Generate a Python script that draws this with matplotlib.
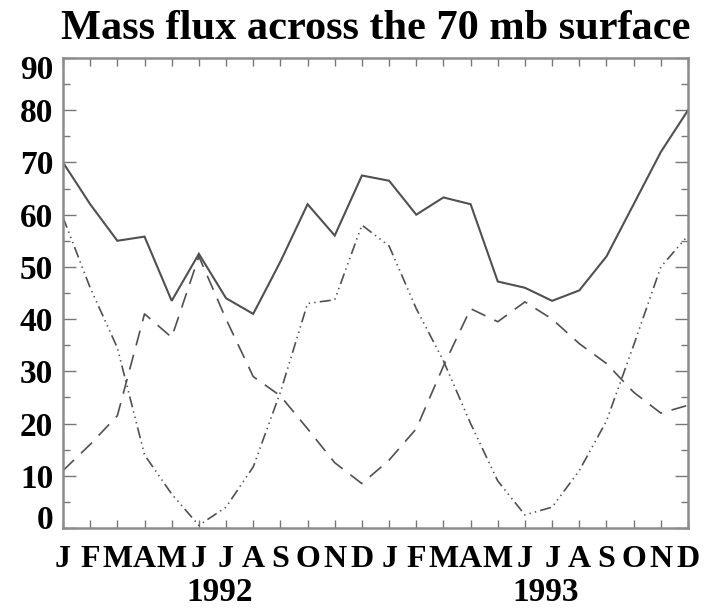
import matplotlib
matplotlib.use('Agg')
import matplotlib.pyplot as plt
from matplotlib.ticker import MultipleLocator
from matplotlib.transforms import ScaledTranslation

# month labels, two years
months = ['J', 'F', 'M', 'A', 'M', 'J', 'J', 'A', 'S', 'O', 'N', 'D'] * 2
years = ['1992', '1993']
yticks = [0, 10, 20, 30, 40, 50, 60, 70, 80, 90]

# values
total = [70, 62, 55, 55.8, 43.5, 52.5, 44, 41, 51, 62, 56, 67.5,
         66.5, 60, 63.3, 62, 47.2, 46, 43.5, 45.5, 52, 62, 72, 80]
dashed = [11, 16, 21.5, 41, 36.5, 52, 40, 29, 25.3, 19, 12.5, 8.5,
          13, 19, 31, 42, 39.5, 43.3, 40, 35.3, 31.5, 26, 22, 23.5]
dotted = [59.5, 46, 34.5, 14, 6.5, 0.5, 4, 11.7, 26, 43, 43.7, 58,
          54, 42, 32, 20, 9, 2.5, 4, 11, 20.5, 35, 50, 56]

plt.rcParams['lines.scale_dashes'] = False
serif = ['Liberation Serif', 'DejaVu Serif']

fig = plt.figure(figsize=(7.04, 6.09), dpi=100)
ax = fig.add_axes([63 / 704, 81 / 609, 625 / 704, 470 / 609])

x = list(range(len(months)))
line_col = '#505050'
ax.plot(x, total, color=line_col, lw=1.5, solid_joinstyle='miter')
ax.plot(x, dashed, color=line_col, lw=1.2, linestyle=(0, (11, 7)))
ax.plot(x, dotted, color=line_col, lw=1.2,
        linestyle=(0, (8, 3, 1, 3, 1, 3, 1, 3)))

ax.set_xlim(0, 23)
ax.set_ylim(0, 90)

# frame and ticks
for s in ax.spines.values():
    s.set_color('#8c8c8c')
    s.set_linewidth(1.8)

ax.set_xticks(x)
ax.set_xticklabels(months, fontsize=23, fontweight='bold', family=serif)
ax.tick_params(axis='x', direction='in', top=True, length=6, width=1,
               color='#777777', pad=12)

# 0 and 90 are drawn separately below, they sit inside the range
ax.set_yticks(yticks)
ax.set_yticklabels([''] + [str(v) for v in yticks[1:-1]] + [''],
                   fontsize=24, fontweight='bold', family=serif)
ax.yaxis.set_minor_locator(MultipleLocator(5))
ax.tick_params(axis='y', which='major', direction='in', right=True,
               length=9.5, width=1, color='#777777', pad=7)
ax.tick_params(axis='y', which='minor', direction='in', right=True,
               length=5, width=1, color='#777777')

lab_tr = ax.get_yaxis_transform() + ScaledTranslation(-7 / 72, 0, fig.dpi_scale_trans)
for v, ypos in [(yticks[0], 2.2), (yticks[-1], 88.3)]:
    ax.text(0, ypos, str(v), transform=lab_tr, ha='right',
            va='center_baseline', fontsize=24, fontweight='bold',
            family=serif)

# year labels under the months
for i, yr in enumerate(years):
    ax.text(5.75 + 12 * i, -0.156, yr, transform=ax.get_xaxis_transform(),
            ha='center', va='baseline', fontsize=24, fontweight='bold',
            family=serif)

ax.set_title('Mass flux across the 70 mb surface', fontsize=30.5,
             fontweight='bold', family=serif, pad=14)

fig.savefig('out.png', dpi=100)
